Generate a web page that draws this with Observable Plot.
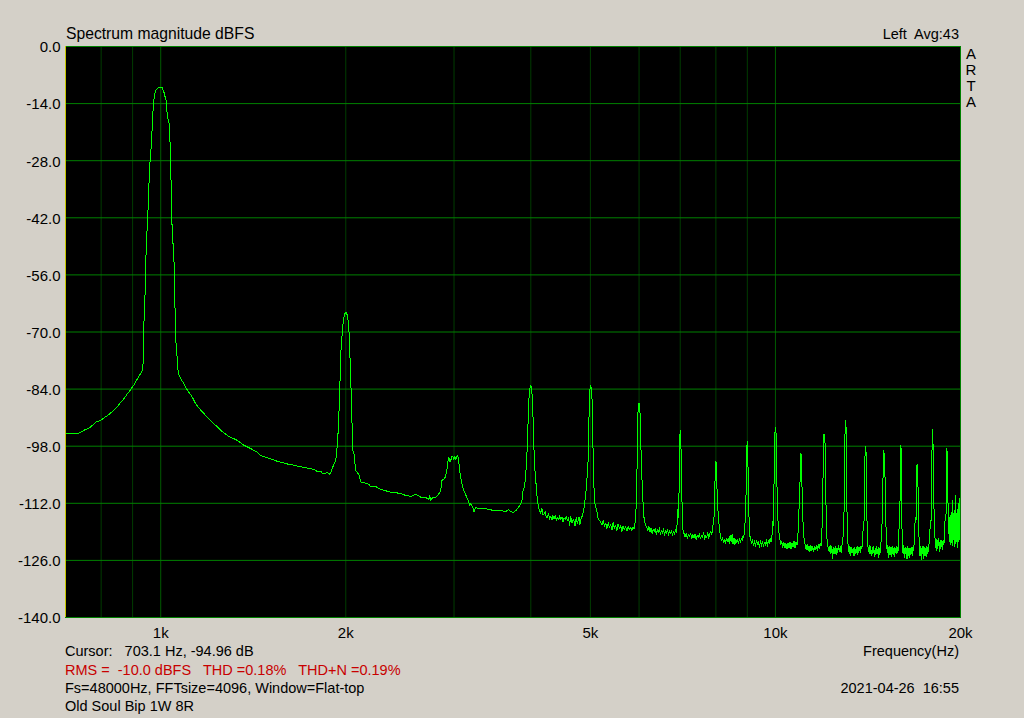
<!DOCTYPE html>
<html>
<head>
<meta charset="utf-8">
<script src="https://cdn.jsdelivr.net/npm/d3@7"></script>
<script src="https://cdn.jsdelivr.net/npm/@observablehq/plot@0.6"></script>
<style>
html, body { margin: 0; padding: 0; background: #d4d0c8; overflow: hidden; }
#chart { width: 1024px; height: 718px; }
</style>
</head>
<body>
<div id="chart"></div>
<script>
// ---- axis definitions ----
const yTicks = [0, -14, -28, -42, -56, -70, -84, -98, -112, -126, -140];
const xTickValues = [1000, 2000, 5000, 10000, 20000];
const xTickLabels = ["1k", "2k", "5k", "10k", "20k"];
const gridMinorHz = [800, 900, 2000, 3000, 4000, 5000, 6000, 7000, 8000, 9000];
const gridMajorHz = [1000, 10000];
const freqDomain = [700, 20000];
const dbDomain = [-140, 0];

// ---- texts ----
const titleText = "Spectrum magnitude dBFS";
const channelText = "Left  Avg:43";
const brandLetters = ["A", "R", "T", "A"];
const axisTitle = "Frequency(Hz)";
const cursorText = "Cursor:   703.1 Hz, -94.96 dB";
const measureText = "RMS =  -10.0 dBFS   THD =0.18%   THD+N =0.19%";
const setupText = "Fs=48000Hz, FFTsize=4096, Window=Flat-top";
const nameText = "Old Soul Bip 1W 8R";
const dateText = "2021-04-26  16:55";

// ---- spectrum [Hz, dBFS] ----
const spectrumBelow1k = [
  [700,-95.0],[714,-94.8],[722,-94.8],[732,-95.0],[741,-94.6],[750,-94.1],[760,-93.7],[769,-93.3],
  [784,-92.1],[798,-91.7],[808,-91.1],[819,-90.5],[830,-89.8],[839,-89.2],[850,-88.3],[861,-87.2],
  [872,-86.3],[882,-85.2],[891,-84.4],[899,-83.5],[908,-82.6],[916,-81.5],[925,-80.5],[934,-79.4],[937,-77.0]
];
const spectrum1kPeak = [
  [939,-68.0],[943,-60.6],[945,-53.3],[949,-46.8],[953.5,-40.2],[957,-33.7],[961,-28.0],[966,-23.5],
  [969,-19.0],[973,-14.0],[978,-11.6],[982.5,-10.6],[990,-10.1],[1000,-10.0],[1006,-10.1],[1012,-11.2],
  [1020,-13.2],[1025,-16.9],[1032,-19.0],[1035,-22.6],[1038,-28.0],[1042,-42.2],[1051,-52.9],[1055,-64.3],
  [1057,-71.3],[1062,-74.9],[1065,-78.2],[1068.5,-80.2],[1078,-81.5],[1091,-82.7],[1105,-84.3],[1126,-86.0],
  [1140,-87.6],[1162,-89.2],[1191,-90.9],[1221,-92.5],[1252,-94.1],[1284,-95.4],[1333,-96.6],[1367,-97.8],
  [1401,-98.6],[1437,-99.5]
];
const spectrum1kTo2k = [
  [1455,-100.3],[1483,-100.7],[1510,-101.1],[1540,-101.6],[1568,-101.9],[1598,-102.3],[1628,-102.5],
  [1658,-102.8],[1690,-103.0],[1720,-103.3],[1754,-103.5],[1788,-103.9],[1800,-104.3],[1821,-104.1],
  [1835,-104.8],[1856,-104.6],[1867,-104.4],[1881,-104.9],[1891,-104.5],[1905,-103.1],
  [1926,-101.5],[1939,-97.4],[1948,-91.3],[1956,-83.5],[1963,-75.3],[1975,-69.6],[1983,-66.8],[1992,-65.5],
  [2002,-65.2],[2013,-66.0],[2023,-68.8],[2030,-74.5],[2038,-81.9],[2046,-90.9],[2053,-99.1],[2063,-99.9],
  [2076,-104.0],[2092,-104.6],[2100,-104.9],[2116,-106.8]
];
const spectrum2kTo4k = [
  [2156,-107.1],[2180,-107.3],[2196,-108.0],[2238,-107.9],[2280,-108.6],[2320,-108.9],[2367,-109.3],
  [2410,-109.4],[2458,-109.6],[2504,-110.1],[2552,-110.3],[2600,-109.8],[2649,-110.5],[2699,-110.6],
  [2729,-111.1],[2739,-110.1],[2750,-111.3],[2771,-110.5],[2802,-110.5],[2834,-109.7],[2855,-108.9],
  [2866,-106.4],[2898,-105.9],[2920,-104.0],[2931,-101.9],[2942,-100.7],[2953,-101.8],[2964,-101.5],
  [2975,-100.4],[2986,-100.5],[2998,-101.3],[3009,-100.5],[3020,-101.4],[3031,-100.5],[3043,-100.3],
  [3054,-101.9],[3066,-104.4],[3089,-107.1],[3112,-108.9],[3147,-110.5],[3171,-111.7],[3183,-112.5],
  [3195,-112.0],[3219,-113.0],[3234,-114.2],[3255,-112.9],[3285,-113.4],[3316,-113.3],[3379,-113.3],
  [3443,-113.6],[3508,-113.9],[3575,-113.8],[3642,-114.0],[3680,-113.6],[3711,-114.0],[3739,-114.3],
  [3781,-113.8],[3824,-112.9],[3867,-111.7]
];
const spectrum4kTo7k = [
  [3881,-109.3],[3910,-107.6],[3925,-104.7],[3940,-101.0],[3955,-94.2],[3970,-86.8],[3985,-83.9],[4000,-83.1],
  [4015,-84.3],[4030,-89.2],[4045,-97.8],[4060,-103.5],[4075,-106.4],[4090,-109.6],[4105,-111.7],[4120,-113.3],
  [4150,-114.4],[4170,-113.2],[4185,-114.8],[4203,-114.6],[4222,-113.9],[4240,-115.6],[4257,-115.4],[4275,-114.5],
  [4292,-115.9],[4310,-115.2],[4330,-116.1],[4345,-115.0],[4364,-115.8],[4385,-114.9],[4400,-116.3],[4420,-115.4],
  [4440,-116.0],[4458,-115.1],[4475,-116.0],[4495,-115.3],[4512,-116.5],[4531,-115.6],[4550,-116.0],[4570,-115.2],
  [4588,-116.2],[4606,-115.5],[4625,-117.4],[4646,-115.3],[4665,-116.8],[4685,-116.0],[4703,-116.4],[4722,-117.6],
  [4740,-115.5],[4764,-117.0],[4780,-115.8],[4793,-115.4],[4808,-117.2],[4824,-116.0],[4840,-115.4],[4855,-115.0],
  [4870,-113.8],[4884,-112.9],
  [4915,-109.7],[4947,-104.0],[4965,-99.5],[4976,-89.2],[4989,-84.3],[5002,-83.1],[5025,-84.3],[5037,-89.2],
  [5050,-99.1],[5063,-107.2],[5087,-112.1],[5125,-114.2],[5149,-115.8],[5198,-116.6],
  [5220,-117.3],[5245,-116.2],[5270,-117.6],[5296,-116.9],[5320,-118.2],[5345,-116.8],[5370,-117.9],[5396,-117.2],
  [5420,-118.6],[5445,-116.7],[5470,-118.1],[5498,-117.4],[5520,-118.8],[5545,-117.0],[5575,-118.3],[5602,-117.5],
  [5625,-118.9],[5650,-117.6],[5680,-118.4],[5708,-117.8],[5735,-118.9],[5760,-117.7],[5790,-118.5],[5815,-118.0],
  [5840,-118.7],[5865,-117.9],[5890,-118.3],[5910,-116.8],[5930,-114.0],
  [5948,-107.1],[5962,-99.0],[5977,-89.2],[6000,-87.4],[6015,-87.6],[6030,-93.0],[6045,-99.5],[6060,-104.5],
  [6083,-110.6],[6112,-115.5],[6145,-117.4],[6173,-117.9],
  [6200,-118.6],[6225,-117.7],[6250,-119.1],[6275,-118.0],[6300,-119.4],[6325,-118.3],[6350,-119.0],[6375,-118.1],
  [6400,-119.6],[6425,-118.4],[6450,-119.2],[6475,-118.0],[6500,-119.7],[6525,-118.6],[6550,-119.4],[6575,-118.2],
  [6600,-120.0],[6625,-118.7],[6650,-119.3],[6675,-118.5],[6700,-119.8],[6725,-118.6],[6750,-119.5],[6775,-118.7],
  [6800,-119.9],[6825,-118.9],[6850,-119.6],[6875,-118.5],[6900,-119.2],[6920,-117.0],[6935,-113.5],
  [6949,-115.4],[6967,-110.5],[6985,-97.8],[6997,-94.2],[7010,-94.4],[7026,-100.7],[7039,-107.2],[7052,-114.5],
  [7070,-118.4],[7100,-119.4]
];
const spectrum7kTo10k = [
  [7130,-120.3],[7160,-119.4],[7190,-120.6],[7220,-119.6],[7250,-120.2],[7280,-119.3],[7310,-120.7],[7340,-119.7],
  [7370,-120.5],[7400,-119.5],[7430,-120.8],[7460,-119.8],[7490,-120.4],[7520,-119.5],[7550,-120.6],[7580,-119.9],
  [7610,-120.5],[7640,-119.1],[7670,-120.8],[7700,-119.8],[7730,-120.4],[7760,-119.2],[7790,-120.6],[7820,-119.4],
  [7850,-118.8],[7880,-119.7],[7905,-118.2],[7930,-116.0],
  [7950,-115.0],[7965,-110.5],[7980,-104.0],[7995,-101.7],[8010,-101.9],[8025,-105.0],[8042,-111.5],[8072,-114.6],
  [8102,-117.9],[8142,-120.3],
  [8170,-121.2],[8200,-120.4],[8230,-121.6],[8260,-120.8],[8290,-121.9],[8320,-120.6],[8350,-121.4],[8380,-120.7],
  [8410,-121.8],[8440,-119.8],[8470,-121.3],[8500,-119.6],[8530,-122.0],[8560,-120.5],[8590,-122.1],[8620,-120.8],
  [8650,-121.7],[8680,-120.9],[8710,-121.9],[8740,-120.7],[8770,-121.5],[8800,-120.6],[8830,-121.2],[8860,-119.8],
  [8880,-120.5],[8905,-118.9],[8925,-116.5],
  [8945,-114.0],[8965,-106.8],[8980,-99.5],[8995,-96.8],[9012,-97.0],[9030,-106.8],[9050,-113.8],[9075,-119.5],
  [9105,-120.7],
  [9140,-121.8],[9175,-120.9],[9210,-122.4],[9245,-121.2],[9280,-122.6],[9315,-121.0],[9350,-122.2],[9385,-121.4],
  [9420,-122.8],[9455,-121.1],[9490,-122.5],[9525,-121.3],[9560,-122.7],[9595,-121.5],[9630,-122.3],[9665,-120.9],
  [9700,-122.6],[9735,-121.2],[9770,-122.0],[9805,-120.6],[9840,-121.5],[9870,-120.0],[9900,-116.5],
  [9914,-117.4],[9940,-110.5],[9966,-97.4],[9989,-93.9],[10015,-93.5],[10041,-99.0],[10064,-110.5],[10102,-117.4],
  [10155,-120.3],[10200,-122.0]
];
const spectrum10kTo13k = [
  [10240,-121.4],[10280,-122.8],[10320,-121.6],[10360,-123.0],[10400,-121.9],[10440,-123.2],[10480,-121.7],
  [10520,-122.9],[10560,-121.5],[10600,-123.1],[10640,-121.8],[10680,-122.6],[10720,-121.3],[10760,-122.9],
  [10800,-121.6],[10840,-122.2],[10870,-120.5],[10900,-117.5],
  [10931,-112.1],[10972,-105.6],[10995,-99.7],[11015,-100.2],[11040,-106.0],[11060,-112.0],[11083,-116.2],
  [11137,-121.1],[11180,-122.2],
  [11220,-123.3],[11260,-122.0],[11300,-123.6],[11340,-122.4],[11380,-123.8],[11420,-122.2],[11460,-123.5],
  [11500,-122.6],[11540,-123.9],[11580,-122.5],[11620,-123.4],[11660,-122.3],[11700,-123.7],[11740,-122.1],
  [11780,-123.0],[11820,-121.8],[11860,-122.5],[11890,-120.0],[11920,-116.5],
  [11940,-110.5],[11970,-97.0],[11990,-95.0],[12015,-95.2],[12045,-97.5],[12077,-110.5],[12122,-120.3],[12180,-122.8],
  [12230,-123.9],[12270,-122.3],[12310,-124.4],[12350,-122.6],[12390,-125.5],[12430,-122.8],[12470,-124.2],
  [12510,-122.5],[12550,-124.6],[12590,-122.9],[12630,-124.0],[12670,-122.4],[12710,-123.8],[12750,-122.7],
  [12790,-124.1],[12830,-122.3],[12870,-121.2],[12900,-118.5],[12930,-114.0],
  [12950,-112.0],[12975,-95.4],[12995,-91.7],[13020,-91.9],[13045,-97.8],[13070,-113.0],[13100,-121.1],[13140,-122.5]
];
const spectrum13kTo16k = [
  [13180,-124.3],[13220,-122.6],[13260,-124.9],[13300,-122.8],[13340,-124.1],[13380,-123.0],[13420,-125.0],
  [13460,-122.7],[13500,-124.4],[13540,-122.9],[13580,-124.6],[13620,-122.5],[13660,-124.2],[13700,-122.8],
  [13740,-124.0],[13780,-122.4],[13820,-123.2],[13860,-121.0],[13900,-117.0],
  [13940,-116.2],[13970,-104.0],[13995,-98.5],[14020,-98.1],[14045,-100.0],[14075,-112.0],[14100,-118.5],[14130,-122.0],
  [14170,-123.8],[14210,-122.4],[14250,-124.5],[14290,-122.6],[14330,-124.9],[14370,-122.8],[14410,-124.3],
  [14450,-122.5],[14490,-125.0],[14530,-123.0],[14570,-124.6],[14610,-122.7],[14650,-124.4],[14690,-122.9],
  [14730,-125.2],[14770,-123.1],[14810,-124.0],[14850,-121.5],[14880,-118.0],
  [14930,-116.2],[14960,-106.4],[14990,-100.0],[15005,-99.1],[15030,-100.2],[15060,-101.5],[15090,-110.0],
  [15118,-116.2],[15165,-121.9],
  [15200,-124.0],[15240,-122.3],[15280,-125.3],[15320,-122.6],[15360,-124.7],[15400,-122.9],[15440,-125.0],
  [15480,-122.5],[15520,-124.3],[15560,-123.0],[15600,-125.2],[15640,-122.8],[15680,-124.1],[15720,-122.6],
  [15760,-124.4],[15800,-122.9],[15840,-123.5],[15870,-120.5],[15900,-116.5],
  [15930,-116.2],[15965,-105.6],[15995,-97.8],[16025,-99.9],[16050,-116.2],[16090,-121.9]
];
const spectrum16kTo20k = [
  [16130,-124.5],[16170,-122.4],[16210,-125.3],[16250,-122.8],[16290,-124.4],[16330,-123.0],[16370,-125.6],
  [16410,-122.6],[16450,-124.7],[16490,-122.9],[16530,-125.2],[16570,-123.1],[16610,-124.5],[16650,-122.8],
  [16690,-124.9],[16730,-122.7],[16770,-123.6],[16810,-122.0],[16850,-118.5],[16880,-115.5],
  [16930,-116.2],[16965,-108.0],[16990,-102.7],[17015,-102.5],[17040,-103.1],[17065,-110.0],[17085,-116.2],[17135,-121.9],
  [17180,-124.9],[17220,-122.6],[17260,-125.7],[17300,-123.0],[17340,-124.4],[17380,-122.5],[17420,-125.5],
  [17460,-122.8],[17500,-124.9],[17540,-123.2],[17580,-125.1],[17620,-122.6],[17660,-124.3],[17700,-122.9],
  [17740,-123.9],[17780,-121.8],[17820,-120.5],[17860,-116.5],
  [17920,-116.2],[17960,-103.0],[17987,-96.2],[18010,-93.9],[18035,-94.6],[18060,-103.0],[18100,-111.7],
  [18130,-116.2],[18190,-121.5],
  [18230,-122.8],[18270,-120.9],[18310,-123.6],[18350,-121.2],[18390,-122.4],[18430,-120.6],[18470,-123.9],
  [18510,-121.5],[18550,-123.1],[18590,-121.0],[18630,-122.7],[18670,-121.3],[18710,-123.4],[18750,-121.2],
  [18790,-122.2],[18830,-120.8],[18860,-117.5],[18890,-115.0],
  [18940,-116.2],[18965,-106.0],[18985,-98.6],[19010,-99.0],[19040,-100.7],[19075,-110.0],[19110,-116.2],
  [19130,-119.5],[19150,-114.5],[19170,-121.5],[19190,-116.0],[19210,-120.8],[19230,-115.0],[19250,-122.0],
  [19270,-117.2],[19290,-119.8],[19310,-114.2],[19330,-121.6],[19350,-115.8],[19370,-120.3],[19390,-113.0],
  [19410,-122.3],[19430,-111.3],[19450,-119.5],[19470,-114.6],[19490,-121.0],[19510,-116.4],[19530,-120.6],
  [19550,-113.8],[19570,-122.5],[19590,-115.2],[19610,-119.4],[19630,-110.1],[19650,-121.8],[19670,-116.0],
  [19690,-120.2],[19710,-114.5],[19730,-121.5],[19750,-117.0],[19770,-122.8],[19790,-113.6],[19810,-120.4],
  [19830,-112.0],[19850,-121.3],[19870,-115.5],[19890,-119.8],[19910,-110.8],[19930,-121.0],[19950,-114.0],
  [19970,-120.5],[19990,-116.5],[20000,-118.0]
];

const trace = [
  ...spectrumBelow1k, ...spectrum1kPeak, ...spectrum1kTo2k, ...spectrum2kTo4k,
  ...spectrum4kTo7k, ...spectrum7kTo10k, ...spectrum10kTo13k, ...spectrum13kTo16k, ...spectrum16kTo20k
].map(([hz, db]) => ({hz, db}));

const FONT = "'Liberation Sans', Arial, Helvetica, sans-serif";

const svg = Plot.plot({
  width: 1024,
  height: 718,
  marginLeft: 65,
  marginRight: 64,
  marginTop: 46,
  marginBottom: 101,
  style: {background: "#d4d0c8", fontFamily: FONT, fontSize: "15px", color: "#000", overflow: "visible"},
  x: {type: "log", domain: freqDomain},
  y: {domain: dbDomain},
  marks: [
    Plot.frame({fill: "#000", stroke: null}),
    Plot.gridX(gridMinorHz, {stroke: "#003c00", strokeOpacity: 1}),
    Plot.gridX(gridMajorHz, {stroke: "#005c00", strokeOpacity: 1}),
    Plot.gridY(yTicks, {stroke: "#008000", strokeOpacity: 1}),
    Plot.line(trace, {x: "hz", y: "db", stroke: "#00ff00", strokeWidth: 1, clip: true, shapeRendering: "crispEdges"}),
    Plot.frame({stroke: "#008000", strokeOpacity: 1}),
    Plot.ruleX([freqDomain[0]], {stroke: "#c8c800"}),
    Plot.axisY(yTicks, {tickSize: 0, tickPadding: 5, dy: 1, tickFormat: d => d.toFixed(1), label: null, fill: "#000"}),
    Plot.axisX(xTickValues, {tickSize: 0, tickPadding: 10, tickFormat: d => xTickLabels[xTickValues.indexOf(d)], label: null, fill: "#000"})
  ]
});

document.getElementById("chart").appendChild(svg);

// ---- annotations around the frame ----
const s = d3.select(svg);
function addText(str, x, y, anchor, color, size) {
  s.append("text")
    .attr("x", x).attr("y", y)
    .attr("text-anchor", anchor)
    .attr("fill", color || "#000")
    .attr("font-family", FONT)
    .attr("font-size", size || 14.5)
    .style("white-space", "pre")
    .text(str);
}
addText(titleText, 66, 39, "start", "#000", 15.7);
addText(channelText, 959, 39, "end");
brandLetters.forEach((ch, i) => addText(ch, 971, 59 + i * 16, "middle", "#000", 15));
addText(axisTitle, 959, 656, "end");
addText(cursorText, 65, 656, "start");
addText(measureText, 65, 675, "start", "#c80000");
addText(setupText, 65, 693, "start");
addText(dateText, 959, 693, "end");
addText(nameText, 65, 711, "start");
</script>
</body>
</html>
